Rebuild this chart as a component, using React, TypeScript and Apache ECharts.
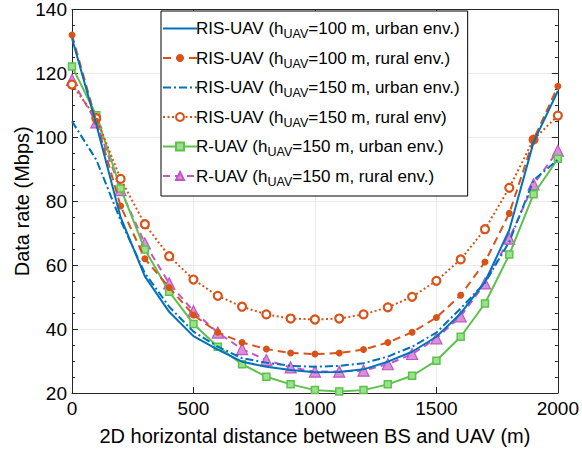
import React, { useEffect, useRef } from "react";
import * as echarts from "echarts";

const distances = [0, 100, 200, 300, 400, 500, 600, 700, 800, 900, 1000, 1100, 1200, 1300, 1400, 1500, 1600, 1700, 1800, 1900, 2000];

const risUrban100 = [131, 104, 75, 56.5, 45.4, 37.8, 33.6, 29.8, 28.2, 27.2, 26.5, 26.6, 27.4, 29.8, 32.9, 37.6, 44.9, 54.8, 71, 98.5, 114.5];
const risRural100 = [132, 105, 78.5, 62, 53, 44.4, 39, 35.8, 33.75, 32.5, 32.2, 32.5, 33.6, 35.8, 39, 43.6, 50.6, 61, 76.2, 99.3, 116];
const risUrban150 = [105, 93, 74, 57.5, 47, 39.2, 34.5, 30.9, 29.5, 28.5, 28.2, 28.5, 29.3, 31.4, 34.5, 38.9, 46.5, 54.5, 67.3, 86.6, 93];
const risRural150 = [116.5, 106, 87, 72.8, 62.8, 55.5, 50.4, 47, 44.6, 43.3, 43, 43.3, 44.6, 46.8, 50.1, 55.1, 61.8, 71.25, 84.2, 99.3, 106.8];
const rUrban150 = [122.2, 106.9, 84, 64.9, 51.7, 41.6, 34.5, 29, 25.1, 22.7, 20.9, 20.5, 20.9, 22.7, 25.4, 30.1, 37.6, 48, 63.3, 82.2, 93.3];
const rRural150 = [118, 104.7, 83.5, 66.8, 54.3, 45.6, 38.9, 33.75, 30.3, 28, 26.7, 26.7, 27, 29, 32.2, 37.1, 44, 54.3, 68.3, 85.3, 95.8];

const seriesNames = [
  "RIS-UAV (h|UAV|=100 m, urban env.)",
  "RIS-UAV (h|UAV|=100 m, rural env.)",
  "RIS-UAV (h|UAV|=150 m, urban env.)",
  "RIS-UAV (h|UAV|=150 m, rural env)",
  "R-UAV (h|UAV|=150 m, urban env.)",
  "R-UAV (h|UAV|=150 m, rural env.)",
];

const xTicksMin = 0;
const xTicksMax = 2000;
const yTicksMin = 20;
const yTicksMax = 140;

const BLUE = "#0072BD";
const ORANGE = "#D95319";
const GREEN = "#5CC24A";
const MAGENTA = "#C354C3";
const FONT = "Liberation Sans, Arial, sans-serif";

function pairs(vals: number[]) {
  return distances.map((d, i) => [d, vals[i]]);
}

export default function App() {
  const ref = useRef<HTMLDivElement>(null);
  useEffect(() => {
    if (!ref.current) return;
    const chart = echarts.init(ref.current, undefined, { renderer: "svg" });
    const axisCommon = {
      axisLine: { show: true, onZero: false, lineStyle: { color: "#262626", width: 1 } },
      axisTick: { show: true, inside: true, length: 6, lineStyle: { color: "#262626" } },
      axisLabel: { color: "#000", fontSize: 19, fontFamily: FONT },
      splitLine: { show: true, lineStyle: { color: "#ebebeb", width: 1 } },
    };
    const option: any = {
      animation: false,
      backgroundColor: "#fff",
      textStyle: { fontFamily: FONT },
      grid: { left: 72, top: 9, width: 488, height: 384, containLabel: false },
      xAxis: [
        {
          ...axisCommon,
          type: "value",
          min: xTicksMin,
          max: xTicksMax,
          interval: 500,
          name: "2D horizontal distance between BS and UAV (m)",
          nameLocation: "middle",
          nameGap: 33,
          nameTextStyle: { fontSize: 20, color: "#000", fontFamily: FONT },
          axisLabel: { ...axisCommon.axisLabel, margin: 6, formatter: (v: number) => String(v) },
        },
        {
          ...axisCommon,
          type: "value",
          position: "top",
          min: xTicksMin,
          max: xTicksMax,
          interval: 500,
          axisLabel: { show: false },
          splitLine: { show: false },
        },
      ],
      yAxis: [
        {
          ...axisCommon,
          type: "value",
          min: yTicksMin,
          max: yTicksMax,
          interval: 20,
          name: "Data rate (Mbps)",
          nameLocation: "middle",
          nameGap: 40,
          nameMoveOverlap: false,
          nameTextStyle: { fontSize: 20, color: "#000", fontFamily: FONT },
          axisLabel: { ...axisCommon.axisLabel, margin: 5 },
          minorTick: { show: true, splitNumber: 4, length: 3, lineStyle: { color: "#262626" } },
        },
        {
          ...axisCommon,
          type: "value",
          position: "right",
          min: yTicksMin,
          max: yTicksMax,
          interval: 20,
          axisLabel: { show: false },
          splitLine: { show: false },
          minorTick: { show: true, splitNumber: 4, length: 3, lineStyle: { color: "#262626" } },
        },
      ],
      legend: {
        orient: "vertical",
        left: 161,
        top: 11,
        padding: [9, 8, 8, 1],
        itemGap: 9.0,
        itemWidth: 34,
        itemHeight: 10,
        backgroundColor: "#fff",
        borderColor: "#000",
        borderWidth: 1,
        borderRadius: 0,
        data: seriesNames.map((n, i) =>
          i === 0 || i === 2 ? { name: n, itemStyle: { opacity: 0 } } : { name: n }
        ),
        formatter: (name: string) => {
          const parts = name.split("|");
          return `{a|${parts[0]}}{s|${parts[1]}}{a|${parts[2]}}`;
        },
        textStyle: {
          padding: [0, 0, 0, -6],
          rich: {
            a: { fontSize: 17, fontFamily: FONT, color: "#000", lineHeight: 22 },
            s: { fontSize: 12.5, fontFamily: FONT, color: "#000", padding: [11, 0, 0, 0] },
          },
        },
      },
      series: [
        {
          name: seriesNames[0],
          type: "line",
          data: pairs(risUrban100),
          symbol: "none",
          lineStyle: { color: BLUE, width: 2 },
          itemStyle: { color: BLUE },
          z: 6,
        },
        {
          name: seriesNames[1],
          type: "line",
          data: pairs(risRural100),
          symbol: "circle",
          symbolSize: 7,
          lineStyle: { color: ORANGE, width: 2, type: [8, 5] },
          itemStyle: { color: ORANGE, borderWidth: 0 },
          z: 5,
        },
        {
          name: seriesNames[2],
          type: "line",
          data: pairs(risUrban150),
          symbol: "none",
          lineStyle: { color: BLUE, width: 2, type: [8, 3, 2, 3] },
          itemStyle: { color: BLUE },
          z: 4,
        },
        {
          name: seriesNames[3],
          type: "line",
          data: pairs(risRural150),
          symbol: "circle",
          symbolSize: 8,
          lineStyle: { color: ORANGE, width: 2, type: [2, 2.5] },
          itemStyle: { color: "#fff", borderColor: ORANGE, borderWidth: 2.2 },
          z: 3,
        },
        {
          name: seriesNames[4],
          type: "line",
          data: pairs(rUrban150),
          symbol: "rect",
          symbolSize: 7,
          lineStyle: { color: GREEN, width: 2 },
          itemStyle: { color: "#9be08e", borderColor: GREEN, borderWidth: 1.5 },
          z: 2,
        },
        {
          name: seriesNames[5],
          type: "line",
          data: pairs(rRural150),
          symbol: "triangle",
          symbolSize: 11,
          lineStyle: { color: MAGENTA, width: 2, type: [7, 5] },
          itemStyle: { color: "#d98fd9", borderColor: MAGENTA, borderWidth: 1.2 },
          z: 1,
        },
      ],
    };
    chart.setOption(option);
    return () => chart.dispose();
  }, []);
  return (
    <div
      ref={ref}
      style={{ position: "fixed", left: 0, top: 0, width: 582, height: 453, background: "#fff" }}
    />
  );
}
